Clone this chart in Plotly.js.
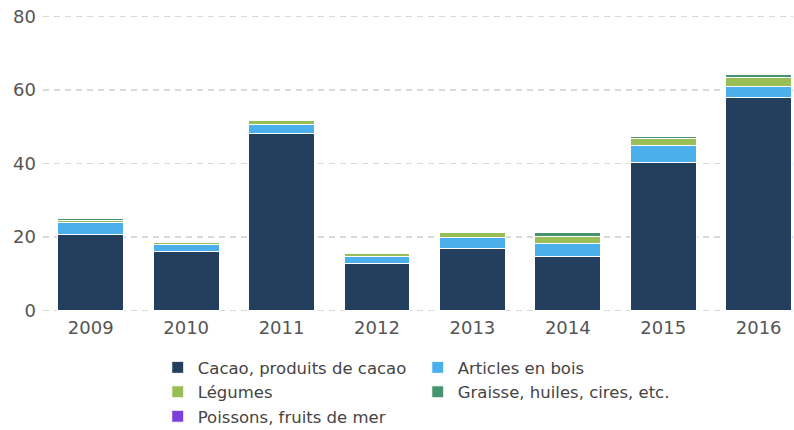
<!DOCTYPE html>
<html>
<head>
<meta charset="utf-8">
<script src="https://cdn.plot.ly/plotly-3.0.1.min.js"></script>
<style>html,body{margin:0;padding:0;background:#fff;}#chart{width:794px;height:430px;}</style>
</head>
<body>
<div id="chart"></div>
<script>
var years = ['2009','2010','2011','2012','2013','2014','2015','2016'];
var cacao    = [20.6, 16.1, 48.3, 12.8, 16.8, 14.6, 40.4, 58.1];
var bois     = [3.2, 1.8, 2.4, 1.8, 3.0, 3.6, 4.5, 2.9];
var legumes  = [0.7, 0.7, 1.0, 1.0, 1.4, 1.9, 1.8, 2.3];
var graisse  = [0.6, 0.1, 0.1, 0.1, 0.1, 1.1, 0.7, 1.0];
var poissons = [0, 0, 0, 0, 0, 0, 0, 0];
var names = ['Cacao, produits de cacao','Articles en bois','Légumes','Graisse, huiles, cires, etc.','Poissons, fruits de mer'];
var colors = ['#243F5E','#4AAFEA','#98BE55','#46946F','#7B3FDB'];
var series = [cacao, bois, legumes, graisse, poissons];

var data = series.map(function(s,i){
  return {type:'bar', x:years, y:s, name:names[i],
    marker:{color:colors[i], line:{color:'#ffffff', width:1}},
    hoverinfo:'x+y+name'};
});

var layout = {
  width:794, height:430,
  margin:{l:43, r:1, t:13, b:116, autoexpand:false},
  barmode:'stack', bargap:0.31,
  paper_bgcolor:'#fff', plot_bgcolor:'#fff',
  font:{family:'DejaVu Sans, sans-serif', color:'#555'},
  xaxis:{type:'category', range:[-0.5,7.36], showgrid:false, zeroline:false,
    showline:false, ticks:'', ticklabelstandoff:1, tickfont:{size:18, color:'#555'}},
  yaxis:{range:[-1,81], tickvals:[0,20,40,60,80], showgrid:true, gridcolor:'#d9d9d9', gridwidth:1.5,
    griddash:'6px,5px', zeroline:false, showline:false, ticks:'', ticklabelstandoff:6,
    tickfont:{size:18, color:'#555'}},
  showlegend:true,
  legend:{orientation:'h', traceorder:'normal', x:0.153, xanchor:'left', y:-0.12, yanchor:'top',
    entrywidth:215, entrywidthmode:'pixels', font:{size:16.5, color:'#444'}, itemclick:false}
};
Plotly.newPlot('chart', data, layout, {displayModeBar:false, staticPlot:true});
</script>
</body>
</html>
